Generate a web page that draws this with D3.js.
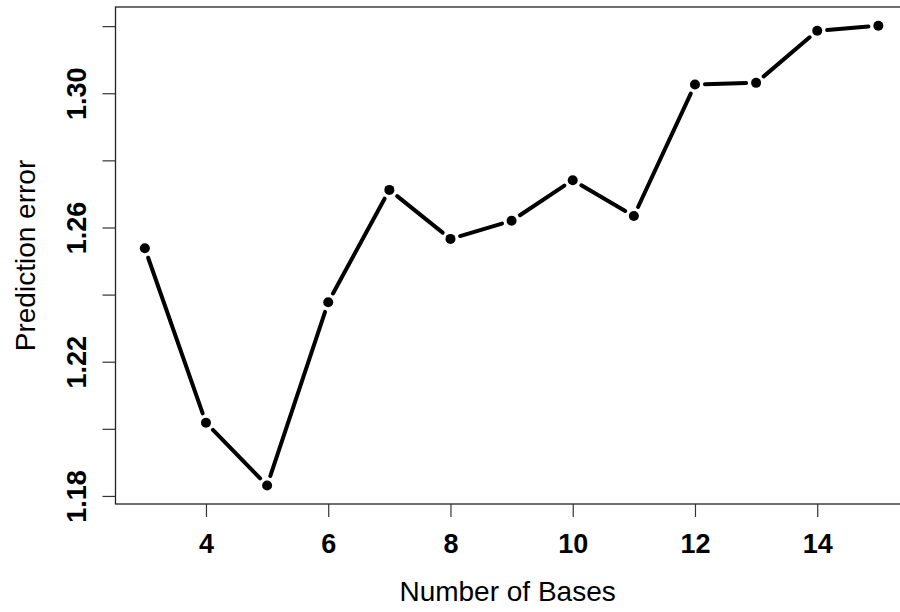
<!DOCTYPE html>
<html>
<head>
<meta charset="utf-8">
<script src="https://cdn.jsdelivr.net/npm/d3@7"></script>
<style>
  body { margin: 0; background: #fff; }
  svg text { font-family: "Liberation Sans", Arial, sans-serif; fill: #000; }
</style>
</head>
<body>
<script>
// data
var bases = [3, 4, 5, 6, 7, 8, 9, 10, 11, 12, 13, 14, 15];
var predError = [1.2538, 1.2018, 1.1831, 1.2377, 1.2712, 1.2566, 1.2620,
                 1.2741, 1.2634, 1.3026, 1.3031, 1.3186, 1.3201];
var xTicks = [4, 6, 8, 10, 12, 14];
var yTicks = [1.18, 1.20, 1.22, 1.24, 1.26, 1.28, 1.30, 1.32];
var yLabels = [1.18, 1.22, 1.26, 1.30];

var width = 900;
var height = 612;

var svg = d3.select('body')
    .append('svg')
    .attr('width', width)
    .attr('height', height)

// R style 4% padding on each side
var xScale = d3.scaleLinear()
    .domain([2.52, 15.48])
    .range([115.5, 907.7])

var yScale = d3.scaleLinear()
    .domain([1.1776, 1.3257])
    .range([504, 7])

// box
svg.append('rect')
    .attr('x', xScale.range()[0])
    .attr('y', yScale.range()[1])
    .attr('width', xScale.range()[1] - xScale.range()[0])
    .attr('height', yScale.range()[0] - yScale.range()[1])
    .attr('fill', 'none')
    .attr('stroke', '#222')
    .attr('stroke-width', 1.3)

// x axis
var axisB = d3.axisBottom(xScale)
    .tickValues(xTicks)
    .tickSize(13)
    .tickFormat(d3.format('d'))

var gx = svg.append('g')
    .attr('transform', 'translate(0,504)')
    .call(axisB)
gx.select('.domain').remove()
gx.selectAll('line').attr('stroke', '#333').attr('stroke-width', 1.2)
gx.selectAll('text')
    .attr('font-size', 27)
    .attr('font-weight', 'bold')
    .attr('dy', '0.71em')
    .attr('y', 30)

// y axis, R skips every other label
var axisL = d3.axisLeft(yScale)
    .tickValues(yTicks)
    .tickSize(13)
    .tickFormat(function (d) {
        var show = yLabels.some(function (v) { return Math.abs(v - d) < 1e-6; });
        return show ? d3.format('.2f')(d) : '';
    })

var gy = svg.append('g')
    .attr('transform', 'translate(115.5,0)')
    .call(axisL)
gy.select('.domain').remove()
gy.selectAll('line').attr('stroke', '#333').attr('stroke-width', 1.2)
gy.selectAll('text')
    .attr('font-size', 27)
    .attr('font-weight', 'bold')
    .attr('text-anchor', 'middle')
    .attr('x', 0)
    .attr('y', 0)
    .attr('dy', 0)
    .attr('transform', 'translate(-30,0) rotate(-90)')

// titles
svg.append('text')
    .text('Number of Bases')
    .attr('x', (xScale.range()[0] + xScale.range()[1]) / 2 - 4)
    .attr('y', 601)
    .attr('text-anchor', 'middle')
    .attr('font-size', 28)

svg.append('text')
    .text('Prediction error')
    .attr('text-anchor', 'middle')
    .attr('font-size', 28)
    .attr('transform', 'translate(35,' + (yScale.range()[0] + yScale.range()[1]) / 2 + ') rotate(-90)')

// type = "b": segments with a gap around each point
var pts = bases.map(function (b, i) {
    return [xScale(b), yScale(predError[i])];
});
var gap = 10;
var segs = [];
for (var i = 0; i < pts.length - 1; i++) {
    var dx = pts[i + 1][0] - pts[i][0];
    var dy = pts[i + 1][1] - pts[i][1];
    var len = Math.sqrt(dx * dx + dy * dy);
    if (len <= 2 * gap) continue;
    var ux = dx / len, uy = dy / len;
    segs.push([pts[i][0] + ux * gap, pts[i][1] + uy * gap,
               pts[i + 1][0] - ux * gap, pts[i + 1][1] - uy * gap]);
}

svg.selectAll('line.seg')
    .data(segs)
    .enter()
    .append('line')
    .attr('class', 'seg')
    .attr('x1', function (d) { return d[0]; })
    .attr('y1', function (d) { return d[1]; })
    .attr('x2', function (d) { return d[2]; })
    .attr('y2', function (d) { return d[3]; })
    .attr('stroke', '#000')
    .attr('stroke-width', 4)
    .attr('stroke-linecap', 'round')

svg.selectAll('circle')
    .data(pts)
    .enter()
    .append('circle')
    .attr('cx', function (d) { return d[0]; })
    .attr('cy', function (d) { return d[1]; })
    .attr('r', 5)
    .attr('fill', '#000')
</script>
</body>
</html>
